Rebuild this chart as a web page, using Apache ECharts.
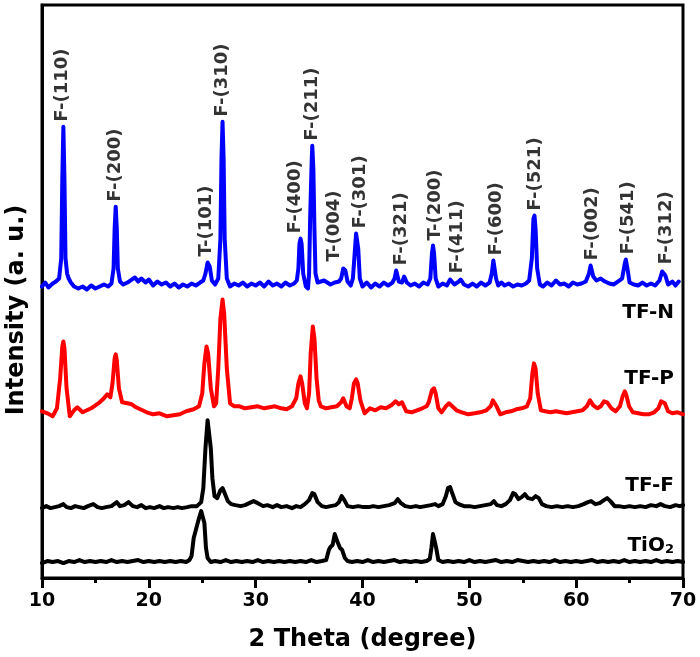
<!DOCTYPE html>
<html>
<head>
<meta charset="utf-8">
<script src="https://cdn.jsdelivr.net/npm/echarts@6/dist/echarts.min.js"></script>
<style>html,body{margin:0;padding:0;background:#fff}#c{width:700px;height:657px}</style>
</head>
<body>
<div id="c"></div>
<script>
// 2-theta tick labels
var xTicks = [10, 20, 30, 40, 50, 60, 70];
// Sample names (stacked, offset intensities, arbitrary units)
var sampleNames = ['TF-N', 'TF-P', 'TF-F', 'TiO{s|2}'];

// TF-N pattern [2theta, intensity]
var tfN = [[10.0,292],[10.3,296],[10.6,291],[11.0,295],[11.3,297],[11.6,300],[11.8,320],[11.9,400],[12.0,452],[12.1,400],[12.2,320],[12.35,305],[12.5,300],[12.7,296],[13.0,292],[13.4,290],[13.8,292],[14.2,289],[14.6,293],[15.0,290],[15.4,292],[15.8,294],[16.2,292],[16.5,295],[16.7,310],[16.8,350],[16.9,372],[17.0,350],[17.1,310],[17.3,297],[17.6,294],[18.0,296],[18.4,299],[18.7,301],[19.0,297],[19.3,300],[19.7,296],[20.0,299],[20.4,293],[20.8,297],[21.2,294],[21.6,296],[22.0,292],[22.4,295],[22.8,291],[23.2,294],[23.6,292],[24.0,295],[24.4,293],[24.8,296],[25.1,298],[25.3,305],[25.5,316],[25.6,317],[25.7,312],[25.9,298],[26.2,294],[26.5,300],[26.7,340],[26.8,420],[26.9,457],[27.0,420],[27.1,340],[27.3,300],[27.6,292],[28.0,295],[28.4,293],[28.8,296],[29.2,292],[29.6,295],[30.0,293],[30.4,296],[30.8,292],[31.2,297],[31.6,293],[32.0,295],[32.4,292],[32.8,296],[33.2,293],[33.6,295],[33.85,298],[34.0,310],[34.1,335],[34.2,340],[34.3,335],[34.45,305],[34.7,292],[34.9,290],[35.0,305],[35.1,360],[35.25,420],[35.3,433],[35.4,410],[35.5,350],[35.6,305],[35.8,296],[36.1,297],[36.4,298],[36.7,296],[37.0,294],[37.4,296],[37.8,297],[38.0,300],[38.2,310],[38.3,312],[38.4,308],[38.6,297],[38.9,293],[39.1,300],[39.3,330],[39.4,345],[39.5,345],[39.6,330],[39.75,300],[40.0,292],[40.4,296],[40.8,291],[41.2,295],[41.6,292],[42.0,296],[42.4,293],[42.8,296],[43.0,300],[43.15,308],[43.25,307],[43.4,297],[43.7,296],[43.9,302],[44.0,303],[44.15,296],[44.5,293],[44.9,295],[45.3,292],[45.7,296],[46.1,294],[46.35,300],[46.5,325],[46.6,333],[46.7,325],[46.85,300],[47.1,292],[47.5,295],[47.9,293],[48.2,299],[48.35,300],[48.6,294],[49.0,297],[49.2,299],[49.5,294],[49.9,292],[50.3,295],[50.7,292],[51.1,296],[51.5,293],[51.9,296],[52.1,305],[52.25,318],[52.35,316],[52.5,300],[52.7,293],[53.0,296],[53.3,293],[53.7,295],[54.1,292],[54.5,294],[54.9,293],[55.3,295],[55.6,298],[55.85,320],[56.0,360],[56.1,363],[56.2,350],[56.35,310],[56.6,294],[56.9,292],[57.3,296],[57.7,293],[58.1,298],[58.5,294],[58.9,295],[59.3,292],[59.7,296],[60.1,294],[60.5,295],[60.9,297],[61.2,305],[61.35,313],[61.45,312],[61.6,302],[61.9,298],[62.3,300],[62.7,297],[63.1,295],[63.5,294],[63.9,297],[64.3,300],[64.55,315],[64.65,319],[64.8,310],[65.0,296],[65.4,294],[65.8,293],[66.2,296],[66.6,293],[67.0,295],[67.4,293],[67.8,298],[68.05,307],[68.2,309],[68.35,303],[68.6,294],[69.0,297],[69.3,293],[69.6,297]];

// TF-P pattern
var tfP = [[10.0,167],[10.5,165],[11.0,162],[11.4,170],[11.7,200],[11.9,232],[12.0,237],[12.1,230],[12.3,190],[12.6,162],[13.0,168],[13.3,171],[13.8,166],[14.2,168],[14.6,170],[15.0,173],[15.4,176],[15.8,180],[16.1,184],[16.4,181],[16.6,195],[16.8,220],[16.9,224],[17.0,218],[17.2,190],[17.5,176],[18.0,175],[18.4,174],[18.8,171],[19.2,169],[19.8,166],[20.4,164],[21.0,165],[21.7,162],[22.3,163],[22.9,164],[23.5,167],[24.2,169],[24.7,172],[25.0,185],[25.2,215],[25.4,232],[25.55,225],[25.8,190],[26.1,172],[26.3,175],[26.5,210],[26.7,260],[26.9,279],[27.05,265],[27.3,210],[27.6,175],[28.0,172],[28.5,172],[29.0,170],[29.6,171],[30.2,172],[30.8,170],[31.3,171],[31.8,172],[32.4,170],[32.9,169],[33.4,172],[33.8,180],[34.0,195],[34.2,202],[34.35,195],[34.6,175],[34.8,170],[35.0,185],[35.15,225],[35.35,252],[35.5,240],[35.7,200],[35.9,178],[36.1,172],[36.6,170],[37.1,171],[37.6,172],[38.0,176],[38.2,180],[38.5,172],[38.8,170],[39.0,180],[39.2,195],[39.4,199],[39.55,195],[39.8,178],[40.2,165],[40.7,170],[41.2,168],[41.7,171],[42.2,170],[42.7,173],[43.1,177],[43.4,174],[43.7,176],[44.1,167],[44.6,166],[45.1,168],[45.6,170],[46.0,172],[46.2,176],[46.5,188],[46.7,190],[46.85,185],[47.1,170],[47.4,166],[47.8,172],[48.1,175],[48.4,172],[48.8,168],[49.3,166],[49.9,164],[50.5,165],[51.0,166],[51.6,168],[52.0,172],[52.2,178],[52.35,179],[52.55,172],[52.9,164],[53.4,166],[53.9,167],[54.4,169],[54.9,170],[55.4,172],[55.7,180],[55.9,205],[56.05,215],[56.2,210],[56.4,185],[56.7,168],[57.1,167],[57.6,166],[58.1,167],[58.6,166],[59.1,165],[59.6,166],[60.1,167],[60.6,168],[61.0,172],[61.3,178],[61.6,173],[62.0,170],[62.3,172],[62.6,177],[62.9,176],[63.3,170],[63.7,167],[64.1,172],[64.35,182],[64.55,187],[64.7,183],[64.95,172],[65.3,166],[65.8,165],[66.3,164],[66.8,164],[67.3,166],[67.7,170],[67.95,177],[68.1,179],[68.3,175],[68.6,167],[69.0,165],[69.5,166],[70.0,164]];

// TF-F pattern
var tfF = [[10.0,70],[10.4,72],[10.8,70],[11.2,71],[11.6,72],[12.0,74],[12.3,71],[12.7,70],[13.1,72],[13.5,71],[13.9,70],[14.3,72],[14.8,74],[15.2,71],[15.6,70],[16.0,71],[16.5,72],[17.0,76],[17.3,72],[17.7,73],[18.1,76],[18.5,72],[18.9,71],[19.3,73],[19.7,70],[20.1,71],[20.5,70],[21.0,72],[21.4,70],[21.8,71],[22.3,70],[22.7,71],[23.1,70],[23.6,71],[24.0,72],[24.5,72],[24.9,76],[25.1,90],[25.3,130],[25.5,158],[25.65,160],[25.8,130],[25.95,100],[26.15,82],[26.4,80],[26.7,88],[26.9,90],[27.1,85],[27.4,77],[27.7,74],[28.1,73],[28.6,72],[29.0,73],[29.4,75],[29.8,77],[30.2,75],[30.7,72],[31.1,73],[31.6,71],[32.0,73],[32.4,71],[32.9,72],[33.4,70],[33.8,72],[34.2,71],[34.6,74],[35.0,78],[35.3,85],[35.5,84],[35.8,76],[36.2,72],[36.6,71],[37.0,72],[37.5,73],[37.8,76],[38.05,82],[38.3,78],[38.6,72],[39.1,71],[39.6,72],[40.1,71],[40.6,71],[41.0,72],[41.5,71],[42.0,72],[42.5,73],[43.0,75],[43.3,79],[43.6,75],[44.0,72],[44.5,71],[45.0,72],[45.4,71],[45.9,72],[46.4,73],[46.8,74],[47.1,72],[47.5,74],[47.8,82],[48.0,90],[48.2,91],[48.4,85],[48.7,76],[49.0,74],[49.5,72],[50.0,72],[50.5,71],[51.0,72],[51.5,73],[52.0,74],[52.3,77],[52.6,73],[53.0,72],[53.4,74],[53.8,78],[54.1,85],[54.3,84],[54.6,79],[54.9,81],[55.2,84],[55.5,80],[55.9,79],[56.2,82],[56.5,80],[56.8,74],[57.2,72],[57.7,71],[58.2,72],[58.7,71],[59.2,72],[59.7,71],[60.2,72],[60.7,74],[61.1,76],[61.4,77],[61.8,74],[62.2,75],[62.6,78],[62.9,80],[63.2,77],[63.6,72],[64.0,72],[64.5,71],[65.0,72],[65.5,71],[66.0,72],[66.5,71],[67.0,73],[67.5,72],[67.9,74],[68.3,72],[68.8,71],[69.3,73],[69.7,72],[70.0,73]];

// TiO2 pattern
var tiO2 = [[10.0,15],[10.5,17],[11.0,16],[11.5,17],[12.0,15],[12.5,17],[13.0,16],[13.5,18],[14.0,16],[14.5,17],[15.0,16],[15.5,17],[16.0,16],[16.5,18],[17.0,16],[17.5,17],[18.0,16],[18.5,17],[19.0,18],[19.5,16],[20.0,17],[20.5,16],[21.0,17],[21.5,16],[22.0,17],[22.5,16],[23.0,17],[23.5,16],[23.8,18],[24.0,22],[24.2,40],[24.35,46],[24.5,45],[24.7,60],[24.9,67],[25.05,67],[25.2,55],[25.35,30],[25.5,20],[25.8,16],[26.2,17],[26.7,16],[27.2,18],[27.7,16],[28.2,17],[28.7,16],[29.2,17],[29.7,16],[30.2,18],[30.7,16],[31.2,17],[31.7,16],[32.2,17],[32.7,16],[33.2,17],[33.7,16],[34.2,17],[34.7,16],[35.2,18],[35.7,16],[36.2,17],[36.6,18],[36.85,28],[37.0,31],[37.2,33],[37.4,44],[37.55,45],[37.7,35],[37.9,30],[38.1,28],[38.35,20],[38.6,17],[39.0,16],[39.5,17],[40.0,16],[40.5,18],[41.0,16],[41.5,17],[42.0,16],[42.5,17],[43.0,18],[43.5,16],[44.0,17],[44.5,16],[45.0,17],[45.5,16],[46.0,17],[46.3,19],[46.45,30],[46.6,44],[46.75,45],[46.9,30],[47.1,18],[47.5,16],[48.0,17],[48.5,16],[49.0,17],[49.5,16],[50.0,18],[50.5,16],[51.0,17],[51.5,16],[52.0,17],[52.5,18],[53.0,16],[53.5,17],[54.0,16],[54.5,18],[55.0,17],[55.5,16],[56.0,17],[56.5,16],[57.0,17],[57.5,16],[58.0,18],[58.5,16],[59.0,17],[59.5,16],[60.0,17],[60.5,16],[61.0,17],[61.5,18],[62.0,16],[62.5,17],[63.0,16],[63.5,17],[64.0,16],[64.5,18],[65.0,16],[65.5,17],[66.0,16],[66.5,17],[67.0,16],[67.5,18],[68.0,16],[68.5,17],[69.0,16],[69.5,17],[70.0,16]];

// Reflection labels on TF-N: name, label 2theta, peak 2theta
var peakNames  = ['F-(110)','F-(200)','T-(101)','F-(310)','F-(400)','F-(211)','T-(004)','F-(301)','F-(321)','T-(200)','F-(411)','F-(600)','F-(521)','F-(002)','F-(541)','F-(312)'];
var peakLabelX = [11.9, 16.9, 25.4, 26.9, 33.7, 35.3, 37.4, 39.8, 43.6, 46.8, 48.9, 52.5, 56.2, 61.5, 64.9, 68.4];
var peakPos    = [12.0, 16.9, 25.6, 26.9, 34.2, 35.3, 38.3, 39.5, 43.2, 46.6, 48.3, 52.3, 56.1, 61.4, 64.7, 68.2];

var FONT = 'DejaVu Sans';

function peakHeight(series, t) {
  var m = -Infinity;
  series.forEach(function (p) { if (Math.abs(p[0] - t) <= 0.16 && p[1] > m) m = p[1]; });
  return m;
}
var labelData = peakNames.map(function (n, i) {
  return { value: [peakLabelX[i], peakHeight(tfN, peakPos[i])], name: n };
});

function lineSeries(name, data, color) {
  return {
    name: name, type: 'line', data: data, symbol: 'none', smooth: false,
    lineStyle: { color: color, width: 4, join: 'round', cap: 'round' },
    silent: true, z: 3
  };
}

var chart = echarts.init(document.getElementById('c'), null, { renderer: 'canvas' });
chart.setOption({
  animation: false,
  backgroundColor: '#fff',
  grid: { left: 42, right: 17, top: 5, bottom: 78, show: true, borderColor: '#000', borderWidth: 3, backgroundColor: 'transparent', containLabel: false },
  xAxis: {
    type: 'value', min: xTicks[0], max: xTicks[xTicks.length - 1], interval: 10,
    name: '2 Theta (degree)', nameLocation: 'middle', nameGap: 50,
    nameTextStyle: { fontFamily: FONT, fontWeight: 'bold', fontSize: 24, color: '#000' },
    axisLine: { show: true, lineStyle: { color: '#000', width: 3 } },
    axisTick: { show: true, inside: false, length: 10, lineStyle: { color: '#000', width: 3 } },
    minorTick: { show: true, splitNumber: 2, length: 5, lineStyle: { color: '#000', width: 3 } },
    axisLabel: { margin: 14, fontFamily: FONT, fontWeight: 'bold', fontSize: 19, color: '#000',
      formatter: function (v) { return xTicks.indexOf(v) >= 0 ? String(v) : ''; } },
    splitLine: { show: false }
  },
  yAxis: {
    type: 'value', min: 0, max: 574,
    axisLine: { show: true, lineStyle: { color: '#000', width: 3 } },
    axisTick: { show: false }, axisLabel: { show: false }, splitLine: { show: false }
  },
  graphic: [
    { type: 'text', x: 17, y: 310, rotation: Math.PI / 2,
      style: { text: 'Intensity (a. u.)', fill: '#000', fontFamily: FONT, fontWeight: 'bold', fontSize: 24, align: 'center', verticalAlign: 'middle' } },
    { type: 'text', right: 26, top: 303,
      style: { text: sampleNames[0], fill: '#000', fontFamily: FONT, fontWeight: 'bold', fontSize: 20 } },
    { type: 'text', right: 26, top: 369,
      style: { text: sampleNames[1], fill: '#000', fontFamily: FONT, fontWeight: 'bold', fontSize: 20 } },
    { type: 'text', right: 26, top: 476,
      style: { text: sampleNames[2], fill: '#000', fontFamily: FONT, fontWeight: 'bold', fontSize: 20 } },
    { type: 'text', right: 26, top: 536,
      style: { text: sampleNames[3], fill: '#000', fontFamily: FONT, fontWeight: 'bold', fontSize: 20,
        rich: { s: { fontFamily: FONT, fontWeight: 'bold', fontSize: 13, verticalAlign: 'bottom', padding: [8, 0, 0, 0], fill: '#000' } } } }
  ],
  series: [
    lineSeries('TiO2', tiO2, '#000'),
    lineSeries('TF-F', tfF, '#000'),
    lineSeries('TF-P', tfP, '#ff0000'),
    lineSeries('TF-N', tfN, '#0000ff'),
    {
      name: 'labels', type: 'scatter', data: labelData, symbolSize: 0, silent: true, z: 5,
      label: {
        show: true, position: 'top', distance: 5, rotate: 90, align: 'left', verticalAlign: 'middle',
        formatter: function (p) { return p.name; },
        fontFamily: FONT, fontWeight: 'bold', fontSize: 18, color: '#000'
      }
    }
  ]
});
</script>
</body>
</html>
